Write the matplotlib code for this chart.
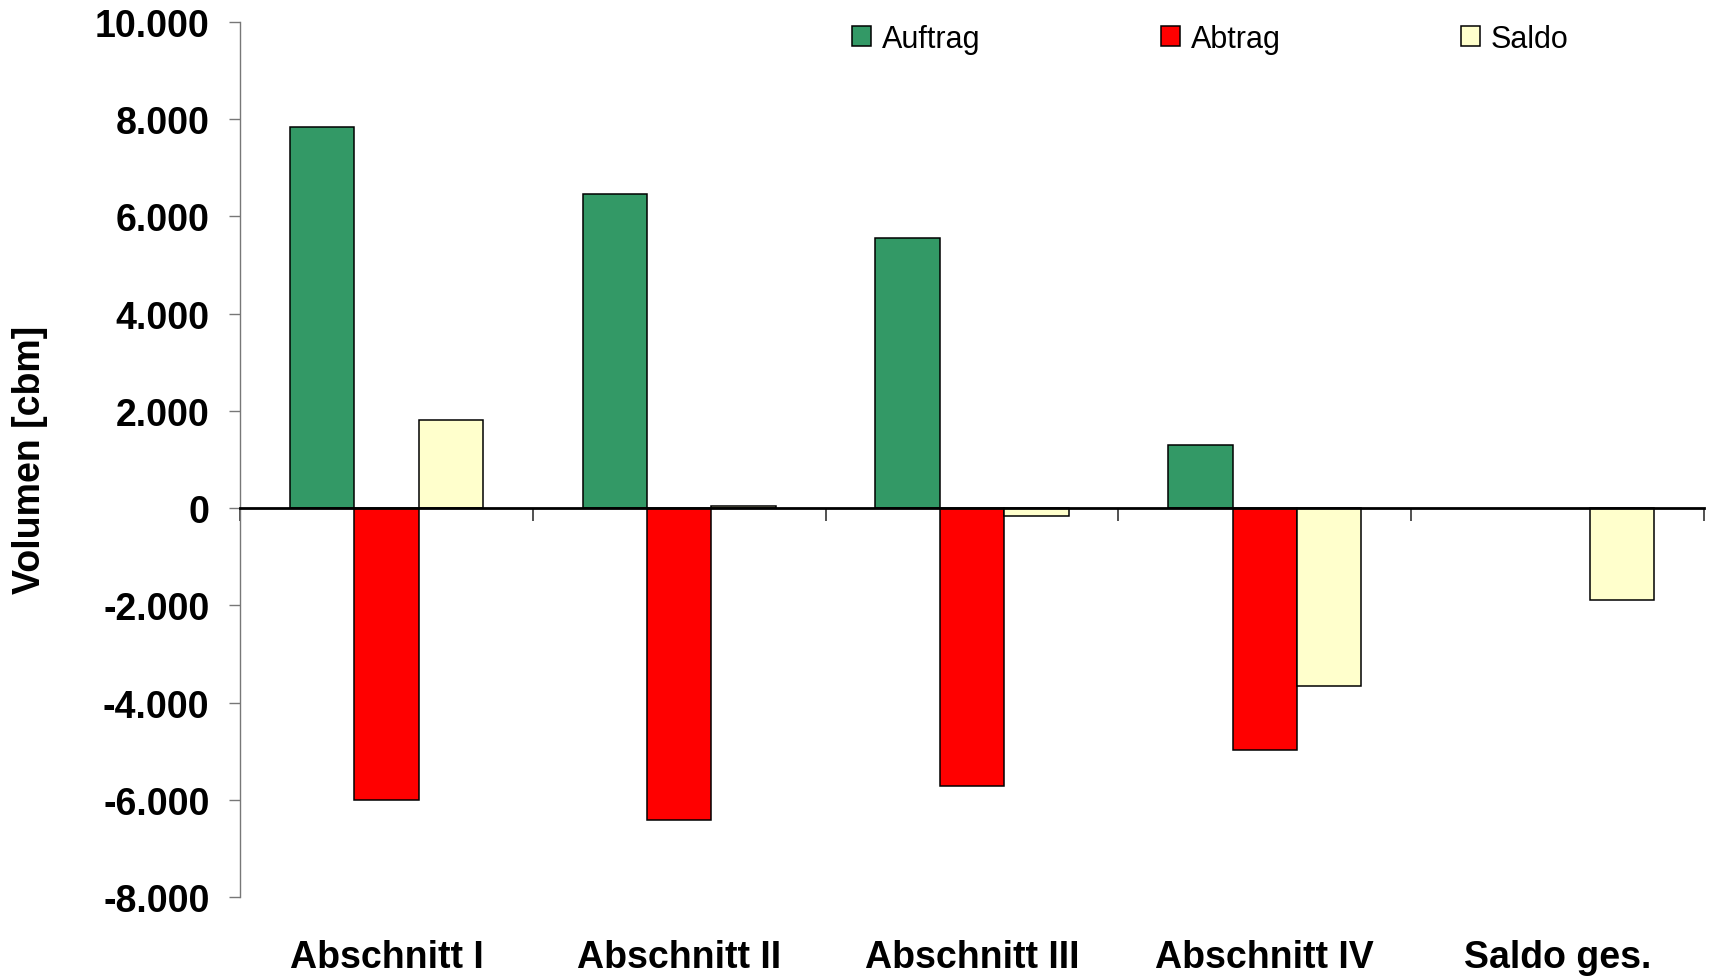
import numpy as np
import matplotlib
matplotlib.use("Agg")
import matplotlib.pyplot as plt
from matplotlib.ticker import FuncFormatter, FixedLocator
from matplotlib.transforms import blended_transform_factory

plt.rcParams['font.family'] = ['Liberation Sans', 'DejaVu Sans']

categories = ["Abschnitt I", "Abschnitt II", "Abschnitt III", "Abschnitt IV", "Saldo ges."]
auftrag = [7830, 6460, 5560, 1300, np.nan]
abtrag = [-6010, -6420, -5720, -4975, np.nan]
saldo = [1820, 50, -160, -3650, -1895]

series = [("Auftrag", auftrag, "#339966"),
          ("Abtrag", abtrag, "#FF0000"),
          ("Saldo", saldo, "#FFFFCC")]

fig = plt.figure(figsize=(17.15, 9.79), dpi=100)
ax = fig.add_axes([240 / 1715, 1 - 898 / 979, (1704 - 240) / 1715, (898 - 23) / 979])

x = np.arange(len(categories))
width = 0.22
offsets = [-width, 0, width]
handles = []
for (name, vals, color), off in zip(series, offsets):
    b = ax.bar(x + off, vals, width, color=color, edgecolor="black",
               linewidth=1.1, label=name, zorder=2)
    handles.append(b)

ax.set_xlim(-0.5, len(categories) - 0.5)
ax.set_ylim(-8000, 10000)
ax.set_yticks(np.arange(-8000, 10001, 2000))
ax.yaxis.set_major_formatter(FuncFormatter(lambda v, p: f"{v:,.0f}".replace(",", ".")))

# spines: grey value axis on the left, category axis through zero
for s in ("top", "right"):
    ax.spines[s].set_visible(False)
ax.spines["left"].set_color("#777777")
ax.spines["left"].set_linewidth(1.0)
ax.spines["bottom"].set_position(("data", 0))
ax.spines["bottom"].set_color("black")
ax.spines["bottom"].set_linewidth(2.0)
ax.spines["bottom"].set_zorder(3)

ax.tick_params(axis="y", direction="out", length=8, width=1.0, color="#777777",
               pad=14, labelsize=27)
for t in ax.get_yticklabels():
    t.set_fontweight("bold")

ax.xaxis.set_major_locator(FixedLocator(np.arange(-0.5, len(categories), 1.0)))
ax.tick_params(axis="x", direction="out", length=9, width=1.2, color="#333333",
               labelbottom=False)

trans = blended_transform_factory(ax.transData, fig.transFigure)
for xi, cat in zip(x, categories):
    ax.text(xi, 1 - 958 / 979, cat, transform=trans, ha="center", va="center",
            fontsize=27, fontweight="bold")

fig.text(30 / 1715, 1 - 460 / 979, "Volumen [cbm]", rotation=90, ha="center",
         va="center", fontsize=27, fontweight="bold")

fig.legend(handles=handles, labels=[s[0] for s in series], ncol=3,
           loc="center left", bbox_to_anchor=(852 / 1715, 1 - 40 / 979),
           frameon=False, fontsize=22, handlelength=0.62, handleheight=0.62,
           handletextpad=0.36, columnspacing=5.9, borderpad=0, borderaxespad=0)

fig.savefig("out.png", dpi=100)
